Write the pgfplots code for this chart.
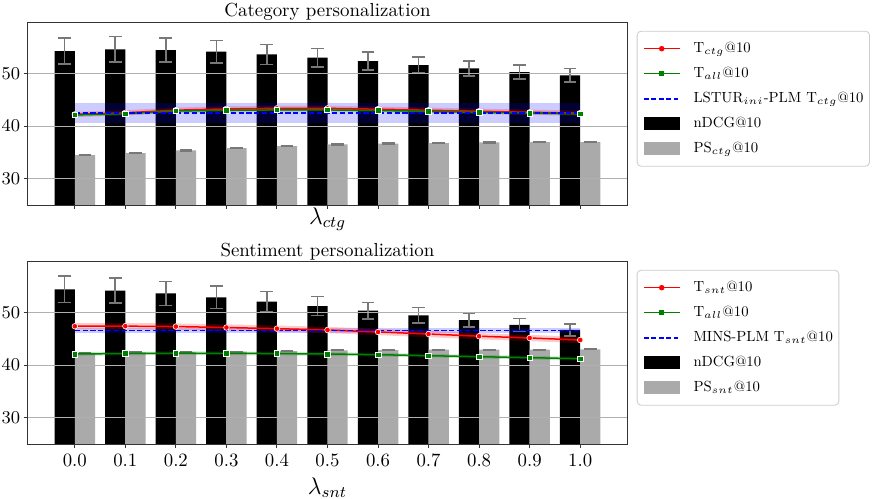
\documentclass[border=0pt]{standalone}
\usepackage{fontspec}
\setmainfont{lmroman10-regular.otf}[ItalicFont=lmroman10-italic.otf, BoldFont=lmroman10-bold.otf]
\usepackage{pgfplots}
\pgfplotsset{compat=1.18}
\usepackage{pgfplotstable}

\definecolor{mygreen}{RGB}{0,128,0}
\definecolor{bargray}{RGB}{170,170,170}
\definecolor{errgray}{RGB}{120,120,120}
\definecolor{gridgray}{RGB}{176,176,176}
\definecolor{framegray}{RGB}{204,204,204}

% ---------- Category personalization ----------
\pgfplotstableread{
x ndcg ndcge ps pse
0 54.24 2.47 34.49 0.10
1 54.56 2.44 34.87 0.10
2 54.43 2.28 35.38 0.10
3 54.11 2.12 35.82 0.10
4 53.60 1.90 36.20 0.10
5 52.97 1.74 36.52 0.10
6 52.34 1.68 36.65 0.10
7 51.58 1.49 36.77 0.10
8 50.95 1.42 36.90 0.10
9 50.25 1.30 36.96 0.10
10 49.62 1.27 36.96 0.10
}\ctgbars
\pgfplotstableread{
x t a
0 42.20 42.10
1 42.50 42.35
2 43.00 42.85
3 43.25 43.00
4 43.35 43.05
5 43.35 43.05
6 43.20 42.95
7 43.00 42.78
8 42.80 42.60
9 42.60 42.47
10 42.45 42.30
}\ctglines
\pgfplotstableread{
x y
0 42.43
10 42.43
}\ctgbase
% bands: upper edge left to right, then lower edge right to left
\pgfplotstableread{
x y
0 42.70
1 43.00
2 43.50
3 43.75
4 43.85
5 43.85
6 43.70
7 43.50
8 43.30
9 43.10
10 42.95
10 41.95
9 42.10
8 42.30
7 42.50
6 42.70
5 42.85
4 42.85
3 42.75
2 42.50
1 42.00
0 41.70
}\ctgredband
\pgfplotstableread{
x y
0 42.40
1 42.65
2 43.15
3 43.30
4 43.35
5 43.35
6 43.25
7 43.08
8 42.90
9 42.77
10 42.60
10 42.00
9 42.17
8 42.30
7 42.48
6 42.65
5 42.75
4 42.75
3 42.70
2 42.55
1 42.05
0 41.80
}\ctggreenband
\pgfplotstableread{
x y
0 44.28
10 44.28
10 40.58
0 40.58
}\ctgblueband

% ---------- Sentiment personalization ----------
\pgfplotstableread{
x ndcg ndcge ps pse
0 54.37 2.53 42.30 0.05
1 54.11 2.37 42.40 0.05
2 53.60 2.28 42.50 0.05
3 52.85 2.12 42.55 0.05
4 52.03 1.96 42.65 0.05
5 51.20 1.77 42.80 0.05
6 50.32 1.58 42.85 0.05
7 49.43 1.49 42.90 0.05
8 48.54 1.33 42.90 0.05
9 47.60 1.23 42.90 0.05
10 46.65 1.10 42.95 0.05
}\sntbars
\pgfplotstableread{
x t a
0 47.36 42.09
1 47.38 42.18
2 47.30 42.24
3 47.12 42.22
4 46.90 42.17
5 46.65 42.09
6 46.27 41.96
7 45.89 41.77
8 45.47 41.58
9 45.13 41.39
10 44.75 41.20
}\sntlines
\pgfplotstableread{
x y
0 46.52
10 46.52
}\sntbase
\pgfplotstableread{
x y
0 47.96
1 47.98
2 47.90
3 47.72
4 47.50
5 47.25
6 46.87
7 46.49
8 46.07
9 45.73
10 45.35
10 44.15
9 44.53
8 44.87
7 45.29
6 45.67
5 46.05
4 46.30
3 46.52
2 46.70
1 46.78
0 46.76
}\sntredband
\pgfplotstableread{
x y
0 42.44
1 42.53
2 42.59
3 42.57
4 42.52
5 42.44
6 42.31
7 42.12
8 41.93
9 41.74
10 41.55
10 40.85
9 41.04
8 41.23
7 41.42
6 41.61
5 41.74
4 41.82
3 41.87
2 41.89
1 41.83
0 41.74
}\sntgreenband
\pgfplotstableread{
x y
0 47.02
10 47.02
10 46.02
0 46.02
}\sntblueband

\pgfplotsset{
  barlegendblack/.style={legend image code/.code={\fill[black, sharp corners] (0pt,-3pt) rectangle (17.8pt,3pt);}},
  barlegendgray/.style={legend image code/.code={\fill[bargray, sharp corners] (0pt,-3pt) rectangle (17.8pt,3pt);}},
  every axis title/.style={at={(0.5,1)}, anchor=base, inner sep=0pt, yshift=2.5pt, font=\fontsize{9.45}{11}\selectfont},
  common/.style={
    width=300.2pt, height=91.5pt, scale only axis,
    xmin=-0.94, xmax=10.94, ymin=25, ymax=59.75,
    xtick={0,1,2,3,4,5,6,7,8,9,10}, ytick={30,40,50},
    xtick pos=bottom, ytick pos=left,
    ymajorgrids, grid style={gridgray, line width=0.5pt},
    axis line style={black!80, line width=0.5pt},
    tick style={black!80, line width=0.5pt}, tick align=outside,
    major tick length=1.75pt,
    axis on top,
    tick label style={font=\fontsize{9.4}{11}\selectfont},
    yticklabel style={inner sep=0pt, xshift=-1.6pt},
    xticklabel style={inner sep=0pt, yshift=-2.9pt},
    legend style={at={(1,1)}, anchor=north west, xshift=4.5pt, yshift=-4.4pt,
      draw=framegray, rounded corners=2pt, fill=white, inner xsep=3pt, inner ysep=2.5pt,
      row sep=0pt, font=\fontsize{7.35}{9}\selectfont,
      nodes={inner sep=0pt, text height=8pt, text depth=4.5pt, font=\fontsize{7.35}{9}\selectfont},
      /tikz/every odd column/.append style={column sep=6.6pt}},
    legend cell align=left,
    legend image code/.code={\draw[sharp corners, mark repeat=2,mark phase=2,##1] plot coordinates {(0pt,0pt) (8.9pt,0pt) (17.8pt,0pt)};},
  },
  blackbar/.style={ybar, bar shift=0pt, bar width=0.4, fill=black, draw=none, forget plot,
    error bars/.cd, y dir=both, y explicit,
    error bar style={errgray, line width=0.75pt},
    error mark options={errgray, rotate=90, mark size=3.2pt, line width=0.75pt}},
  graybar/.style={ybar, bar shift=0pt, bar width=0.4, fill=bargray, draw=none, forget plot,
    error bars/.cd, y dir=both, y explicit,
    error bar style={errgray, line width=0.75pt},
    error mark options={errgray, rotate=90, mark size=3.2pt, line width=0.75pt}},
  band/.style={draw=none, fill=#1, fill opacity=0.2, forget plot},
  redline/.style={red, line width=0.75pt, mark=*, mark size=1.4pt, mark options={fill=red, draw=white, line width=0.3pt}, forget plot},
  greenline/.style={mygreen, line width=0.75pt, mark=square*, mark size=1.4pt, mark options={fill=mygreen, draw=white, line width=0.3pt}, forget plot},
  blueline/.style={blue, line width=0.75pt, dash pattern=on 2.6pt off 1.3pt, forget plot},
}

\begin{document}
\begin{tikzpicture}
\path (0pt,0pt) rectangle (436pt,-249pt);

% ---------------- top ----------------
\begin{axis}[common, at={(13.65pt,-11pt)}, anchor=north west,
  title={Category personalization},
  xticklabels={},
  xlabel={\fontsize{11.5}{13}\selectfont$\lambda_{ctg}$},
  xlabel style={at={(axis description cs:0.5,0)}, anchor=base, inner sep=0pt, yshift=-9.5pt},
]
\addlegendimage{red, line width=0.7pt, mark=*, mark size=1pt}
\addlegendentry{T$_{ctg}$@10}
\addlegendimage{mygreen, line width=0.7pt, mark=square*, mark size=0.9pt}
\addlegendentry{T$_{all}$@10}
\addlegendimage{blue, line width=0.8pt, dash pattern=on 2.4pt off 1.3pt}
\addlegendentry{LSTUR$_{ini}$-PLM T$_{ctg}$@10}
\addlegendimage{barlegendblack}
\addlegendentry{nDCG@10}
\addlegendimage{barlegendgray}
\addlegendentry{PS$_{ctg}$@10}

\addplot[blackbar] table[x expr=\thisrow{x}-0.2, y=ndcg, y error=ndcge] {\ctgbars};
\addplot[graybar] table[x expr=\thisrow{x}+0.2, y=ps, y error=pse] {\ctgbars};

\addplot[band=blue] table[x=x, y=y] {\ctgblueband} -- cycle;
\addplot[band=red] table[x=x, y=y] {\ctgredband} -- cycle;
\addplot[band=mygreen] table[x=x, y=y] {\ctggreenband} -- cycle;

\addplot[redline] table[x=x, y=t] {\ctglines};
\addplot[greenline] table[x=x, y=a] {\ctglines};
\addplot[blueline] table[x=x, y=y] {\ctgbase};
\end{axis}

% ---------------- bottom ----------------
\begin{axis}[common, at={(13.65pt,-130.5pt)}, anchor=north west,
  title={Sentiment personalization},
  xticklabels={0.0,0.1,0.2,0.3,0.4,0.5,0.6,0.7,0.8,0.9,1.0},
  xlabel={\fontsize{11.5}{13}\selectfont$\lambda_{snt}$},
  xlabel style={at={(axis description cs:0.5,0)}, anchor=base, inner sep=0pt, yshift=-25pt},
]
\addlegendimage{red, line width=0.7pt, mark=*, mark size=1pt}
\addlegendentry{T$_{snt}$@10}
\addlegendimage{mygreen, line width=0.7pt, mark=square*, mark size=0.9pt}
\addlegendentry{T$_{all}$@10}
\addlegendimage{blue, line width=0.8pt, dash pattern=on 2.4pt off 1.3pt}
\addlegendentry{MINS-PLM T$_{snt}$@10}
\addlegendimage{barlegendblack}
\addlegendentry{nDCG@10}
\addlegendimage{barlegendgray}
\addlegendentry{PS$_{snt}$@10}

\addplot[blackbar] table[x expr=\thisrow{x}-0.2, y=ndcg, y error=ndcge] {\sntbars};
\addplot[graybar] table[x expr=\thisrow{x}+0.2, y=ps, y error=pse] {\sntbars};

\addplot[band=blue] table[x=x, y=y] {\sntblueband} -- cycle;
\addplot[band=red] table[x=x, y=y] {\sntredband} -- cycle;
\addplot[band=mygreen] table[x=x, y=y] {\sntgreenband} -- cycle;

\addplot[redline] table[x=x, y=t] {\sntlines};
\addplot[greenline] table[x=x, y=a] {\sntlines};
\addplot[blueline] table[x=x, y=y] {\sntbase};
\end{axis}
\end{tikzpicture}
\end{document}
